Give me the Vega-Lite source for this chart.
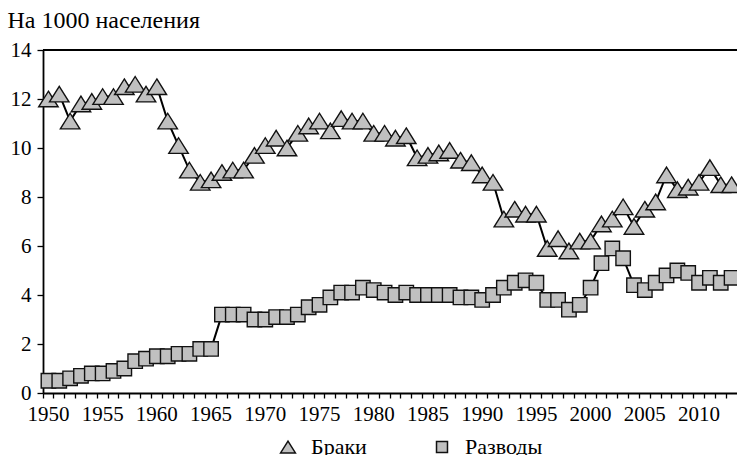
{
  "$schema": "https://vega.github.io/schema/vega-lite/v6.json",
  "width": 694,
  "height": 343,
  "autosize": {"type": "none"},
  "padding": {"left": 43, "top": 50, "right": 0, "bottom": 62},
  "background": "white",
  "config": {
    "view": {"stroke": null},
    "font": "Liberation Serif",
    "axis": {"labelColor": "black", "titleColor": "black", "domainColor": "black", "tickColor": "black", "grid": false}
  },
  "data": {"values": [
    {"year":1950,"s":"Браки","v":12.0},{"year":1951,"s":"Браки","v":12.2},{"year":1952,"s":"Браки","v":11.1},{"year":1953,"s":"Браки","v":11.8},{"year":1954,"s":"Браки","v":11.9},
    {"year":1955,"s":"Браки","v":12.1},{"year":1956,"s":"Браки","v":12.1},{"year":1957,"s":"Браки","v":12.5},{"year":1958,"s":"Браки","v":12.6},{"year":1959,"s":"Браки","v":12.2},
    {"year":1960,"s":"Браки","v":12.5},{"year":1961,"s":"Браки","v":11.1},{"year":1962,"s":"Браки","v":10.1},{"year":1963,"s":"Браки","v":9.1},{"year":1964,"s":"Браки","v":8.6},
    {"year":1965,"s":"Браки","v":8.7},{"year":1966,"s":"Браки","v":9.0},{"year":1967,"s":"Браки","v":9.1},{"year":1968,"s":"Браки","v":9.1},{"year":1969,"s":"Браки","v":9.7},
    {"year":1970,"s":"Браки","v":10.1},{"year":1971,"s":"Браки","v":10.4},{"year":1972,"s":"Браки","v":10.0},{"year":1973,"s":"Браки","v":10.6},{"year":1974,"s":"Браки","v":10.9},
    {"year":1975,"s":"Браки","v":11.1},{"year":1976,"s":"Браки","v":10.7},{"year":1977,"s":"Браки","v":11.2},{"year":1978,"s":"Браки","v":11.1},{"year":1979,"s":"Браки","v":11.1},
    {"year":1980,"s":"Браки","v":10.6},{"year":1981,"s":"Браки","v":10.6},{"year":1982,"s":"Браки","v":10.4},{"year":1983,"s":"Браки","v":10.5},{"year":1984,"s":"Браки","v":9.6},
    {"year":1985,"s":"Браки","v":9.7},{"year":1986,"s":"Браки","v":9.8},{"year":1987,"s":"Браки","v":9.9},{"year":1988,"s":"Браки","v":9.5},{"year":1989,"s":"Браки","v":9.4},
    {"year":1990,"s":"Браки","v":8.9},{"year":1991,"s":"Браки","v":8.6},{"year":1992,"s":"Браки","v":7.1},{"year":1993,"s":"Браки","v":7.5},{"year":1994,"s":"Браки","v":7.3},
    {"year":1995,"s":"Браки","v":7.3},{"year":1996,"s":"Браки","v":5.9},{"year":1997,"s":"Браки","v":6.3},{"year":1998,"s":"Браки","v":5.8},{"year":1999,"s":"Браки","v":6.2},
    {"year":2000,"s":"Браки","v":6.2},{"year":2001,"s":"Браки","v":6.9},{"year":2002,"s":"Браки","v":7.1},{"year":2003,"s":"Браки","v":7.6},{"year":2004,"s":"Браки","v":6.8},
    {"year":2005,"s":"Браки","v":7.5},{"year":2006,"s":"Браки","v":7.8},{"year":2007,"s":"Браки","v":8.9},{"year":2008,"s":"Браки","v":8.3},{"year":2009,"s":"Браки","v":8.4},
    {"year":2010,"s":"Браки","v":8.6},{"year":2011,"s":"Браки","v":9.2},{"year":2012,"s":"Браки","v":8.5},{"year":2013,"s":"Браки","v":8.5},
    {"year":1950,"s":"Разводы","v":0.5},{"year":1951,"s":"Разводы","v":0.5},{"year":1952,"s":"Разводы","v":0.6},{"year":1953,"s":"Разводы","v":0.7},{"year":1954,"s":"Разводы","v":0.8},
    {"year":1955,"s":"Разводы","v":0.8},{"year":1956,"s":"Разводы","v":0.9},{"year":1957,"s":"Разводы","v":1.0},{"year":1958,"s":"Разводы","v":1.3},{"year":1959,"s":"Разводы","v":1.4},
    {"year":1960,"s":"Разводы","v":1.5},{"year":1961,"s":"Разводы","v":1.5},{"year":1962,"s":"Разводы","v":1.6},{"year":1963,"s":"Разводы","v":1.6},{"year":1964,"s":"Разводы","v":1.8},
    {"year":1965,"s":"Разводы","v":1.8},{"year":1966,"s":"Разводы","v":3.2},{"year":1967,"s":"Разводы","v":3.2},{"year":1968,"s":"Разводы","v":3.2},{"year":1969,"s":"Разводы","v":3.0},
    {"year":1970,"s":"Разводы","v":3.0},{"year":1971,"s":"Разводы","v":3.1},{"year":1972,"s":"Разводы","v":3.1},{"year":1973,"s":"Разводы","v":3.2},{"year":1974,"s":"Разводы","v":3.5},
    {"year":1975,"s":"Разводы","v":3.6},{"year":1976,"s":"Разводы","v":3.9},{"year":1977,"s":"Разводы","v":4.1},{"year":1978,"s":"Разводы","v":4.1},{"year":1979,"s":"Разводы","v":4.3},
    {"year":1980,"s":"Разводы","v":4.2},{"year":1981,"s":"Разводы","v":4.1},{"year":1982,"s":"Разводы","v":4.0},{"year":1983,"s":"Разводы","v":4.1},{"year":1984,"s":"Разводы","v":4.0},
    {"year":1985,"s":"Разводы","v":4.0},{"year":1986,"s":"Разводы","v":4.0},{"year":1987,"s":"Разводы","v":4.0},{"year":1988,"s":"Разводы","v":3.9},{"year":1989,"s":"Разводы","v":3.9},
    {"year":1990,"s":"Разводы","v":3.8},{"year":1991,"s":"Разводы","v":4.0},{"year":1992,"s":"Разводы","v":4.3},{"year":1993,"s":"Разводы","v":4.5},{"year":1994,"s":"Разводы","v":4.6},
    {"year":1995,"s":"Разводы","v":4.5},{"year":1996,"s":"Разводы","v":3.8},{"year":1997,"s":"Разводы","v":3.8},{"year":1998,"s":"Разводы","v":3.4},{"year":1999,"s":"Разводы","v":3.6},
    {"year":2000,"s":"Разводы","v":4.3},{"year":2001,"s":"Разводы","v":5.3},{"year":2002,"s":"Разводы","v":5.9},{"year":2003,"s":"Разводы","v":5.5},{"year":2004,"s":"Разводы","v":4.4},
    {"year":2005,"s":"Разводы","v":4.2},{"year":2006,"s":"Разводы","v":4.5},{"year":2007,"s":"Разводы","v":4.8},{"year":2008,"s":"Разводы","v":5.0},{"year":2009,"s":"Разводы","v":4.9},
    {"year":2010,"s":"Разводы","v":4.5},{"year":2011,"s":"Разводы","v":4.7},{"year":2012,"s":"Разводы","v":4.5},{"year":2013,"s":"Разводы","v":4.7}
  ]},
  "encoding": {
    "x": {
      "field": "year", "type": "ordinal",
      "scale": {"type": "band", "paddingInner": 0, "paddingOuter": 0},
      "axis": {
        "title": null, "bandPosition": 0, "labelAngle": 0, "labelOverlap": false, "labelFlush": false,
        "labelExpr": "datum.value % 5 === 0 ? datum.label : ''",
        "labelFont": "Liberation Serif", "labelFontSize": 21, "labelPadding": 5, "tickSize": 5, "tickWidth": 1.3, "domainWidth": 1.8
      }
    },
    "y": {
      "field": "v", "type": "quantitative",
      "scale": {"domain": [0, 14], "nice": false, "zero": true},
      "axis": {
        "values": [0, 2, 4, 6, 8, 10, 12, 14], "format": "d",
        "title": "На 1000 населения", "titleAngle": 0, "titleAlign": "left", "titleBaseline": "alphabetic",
        "titleX": -36, "titleY": -23, "titleFont": "Liberation Serif", "titleFontSize": 24, "titleFontWeight": "normal",
        "labelFont": "Liberation Serif", "labelFontSize": 21, "labelPadding": 6, "tickSize": 6, "tickWidth": 1.3, "domainWidth": 1.8
      }
    }
  },
  "layer": [
    {
      "mark": {"type": "rule", "color": "black", "strokeWidth": 2},
      "encoding": {"y": {"datum": 14}, "x": null}
    },
    {
      "mark": {"type": "line", "color": "black", "strokeWidth": 2},
      "encoding": {"detail": {"field": "s"}}
    },
    {
      "mark": {"type": "point", "filled": true, "fill": "#c0c0c0", "stroke": "#111111", "strokeWidth": 1.4, "opacity": 1, "size": 380},
      "encoding": {
        "shape": {
          "field": "s", "type": "nominal",
          "scale": {"domain": ["Браки", "Разводы"], "range": ["M0,-0.8L1,0.8L-1,0.8Z", "M-0.74,-0.74H0.74V0.74H-0.74Z"]},
          "legend": {
            "title": null, "orient": "none", "direction": "horizontal", "legendX": 234, "legendY": 386,
            "labelFont": "Liberation Serif", "labelFontSize": 22, "labelColor": "black", "labelOffset": 12, "columnPadding": 64, "padding": 0,
            "symbolSize": 220
          }
        }
      }
    }
  ]
}
